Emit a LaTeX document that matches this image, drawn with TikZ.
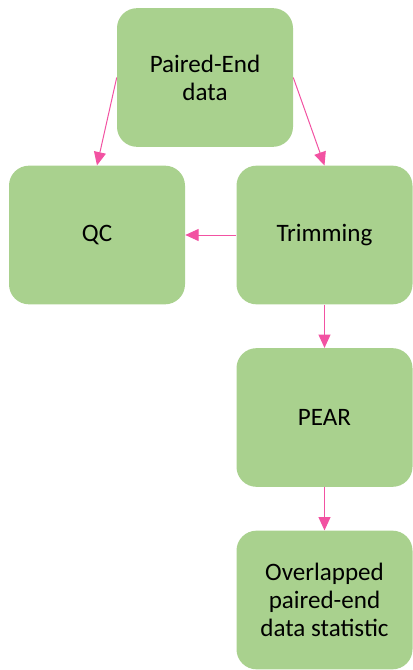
\documentclass[tikz,border=0pt]{standalone}
\usepackage{fontspec}
\setmainfont{Carlito}
\usetikzlibrary{arrows.meta}
\definecolor{boxgreen}{RGB}{169,209,142}
\definecolor{arrowpink}{RGB}{242,82,162}
\begin{document}
\begin{tikzpicture}[x=0.75pt,y=-0.75pt]
		\tikzstyle{stepbox}=[fill=boxgreen,draw=none,rounded corners=15pt,minimum width=132pt,minimum height=104pt,align=center,font=\fontsize{18.8}{21}\selectfont]
		\tikzstyle{flow}=[draw=arrowpink,line width=0.75pt,-{Triangle[length=10pt,width=9pt]}]
		\useasboundingbox (0,0) rectangle (412,670);
		
		\node (data) at (205,77.5) [stepbox] {Paired-End\\data};
		\node (qc) at (97,235) [stepbox] {QC};
		\node (trim) at (324.5,235) [stepbox] {Trimming};
		\node (pear) at (324.5,417.5) [stepbox] {PEAR};
		\node (stat) at (324.5,600) [stepbox] {Overlapped\\paired-end\\data statistic};
		
		\draw[flow] (data.west)--(qc.north);
		\draw[flow] (data.east)--(trim.north);
		\draw[flow] (trim.west)--(qc.east);
		\draw[flow] (trim.south)--(pear.north);
		\draw[flow] (pear.south)--(stat.north);
		
		\end{tikzpicture}
\end{document}
